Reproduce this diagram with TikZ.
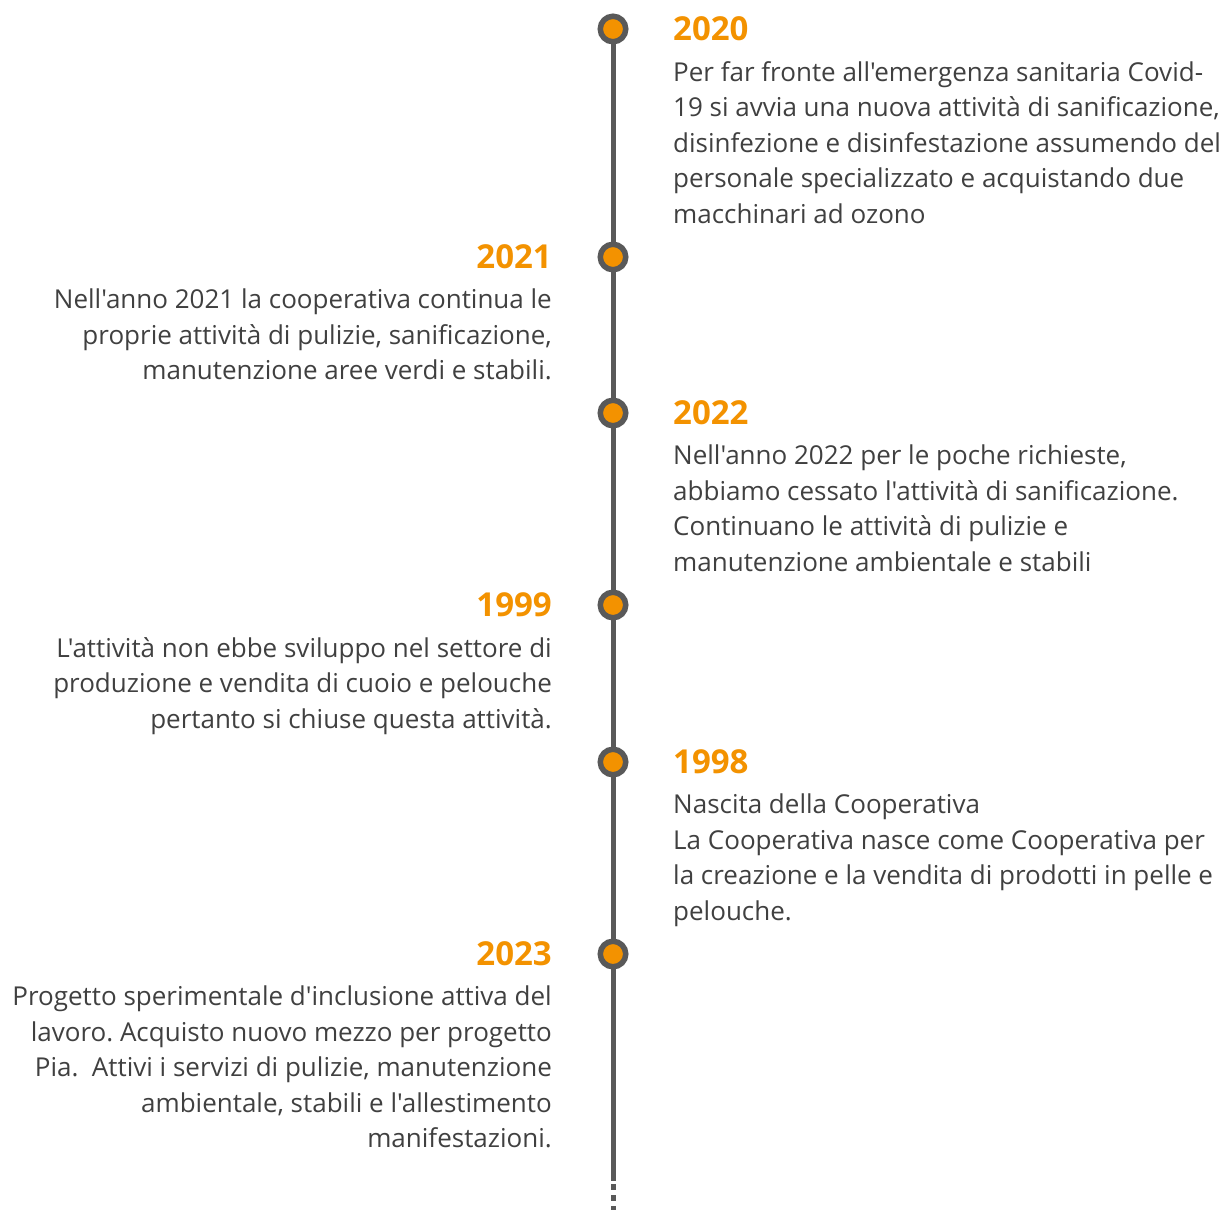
\documentclass[tikz,border=0pt]{standalone}
\usepackage{fontspec}
\setmainfont{Open Sans}[Ligatures=TeXOff]
\usetikzlibrary{positioning}

\definecolor{tlorange}{RGB}{243,146,0}
\definecolor{tlgray}{RGB}{89,89,89}
\definecolor{tltext}{RGB}{64,64,64}

\tikzset{
  dot/.style={circle, draw=tlgray, line width=5.5pt, fill=tlorange, minimum size=25.5pt, inner sep=0pt},
  year/.style={text=tlorange, font=\fontsize{33}{38}\selectfont\bfseries, inner sep=0pt},
  story/.style={text=tltext, font=\fontsize{26}{35.5}\selectfont\frenchspacing, inner sep=0pt},
}

\begin{document}
\begin{tikzpicture}[x=1pt,y=-1pt]
\useasboundingbox (0,0) rectangle (1222,1209);
% axis
\coordinate (top) at (613,29);
\coordinate (end) at (613,1181);
\coordinate (tail) at (613,1212);
\draw[tlgray, line width=5pt] (top) -- (end);
\draw[tlgray, line width=5pt, dash pattern=on 6pt off 5pt] (end) ++(0,3) -- (tail);
% dots
\foreach \name/\y in {d20/29, d21/257, d22/413, d99/605, d98/762, d23/954}
  \node[dot] (\name) at (613,\y) {};
% right side
\node[year, anchor=west] (y20) at (673,29) {2020};
\node[story, anchor=north west, align=left] (t20) at (673,61) {Per far fronte all'emergenza sanitaria Covid-\\19 si avvia una nuova attività di sanificazione,\\disinfezione e disinfestazione assumendo del\\personale specializzato e acquistando due\\macchinari ad ozono};
\node[year, anchor=west] (y22) at (673,413) {2022};
\node[story, anchor=north west, align=left] (t22) at (673,445) {Nell'anno 2022 per le poche richieste,\\abbiamo cessato l'attività di sanificazione.\\Continuano le attività di pulizie e\\manutenzione ambientale e stabili};
\node[year, anchor=west] (y98) at (673,762) {1998};
\node[story, anchor=north west, align=left] (t98) at (673,794) {Nascita della Cooperativa\\La Cooperativa nasce come Cooperativa per\\la creazione e la vendita di prodotti in pelle e\\pelouche.};
% left side
\node[year, anchor=east] (y21) at (552,257) {2021};
\node[story, anchor=north east, align=right] (t21) at (552,289) {Nell'anno 2021 la cooperativa continua le\\proprie attività di pulizie, sanificazione,\\manutenzione aree verdi e stabili.};
\node[year, anchor=east] (y99) at (552,605) {1999};
\node[story, anchor=north east, align=right] (t99) at (552,637) {L'attività non ebbe sviluppo nel settore di\\produzione e vendita di cuoio e pelouche\\pertanto si chiuse questa attività.};
\node[year, anchor=east] (y23) at (552,954) {2023};
\node[story, anchor=north east, align=right] (t23) at (552,986) {Progetto sperimentale d'inclusione attiva del\\lavoro. Acquisto nuovo mezzo per progetto\\Pia.~ Attivi i servizi di pulizie, manutenzione\\ambientale, stabili e l'allestimento\\manifestazioni.};
\end{tikzpicture}
\end{document}
